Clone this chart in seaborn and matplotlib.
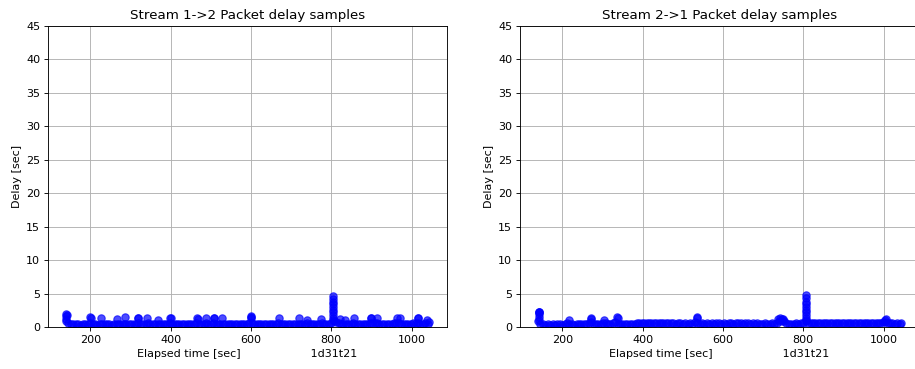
import numpy as np
import pandas as pd
import matplotlib
matplotlib.use("Agg")
import matplotlib.pyplot as plt
import seaborn as sns

# Sample instants shared by both directions [sec]
time_s = [
    140, 146, 152, 158, 164, 170, 176, 182, 188, 194,
    200, 206, 212, 218, 224, 230, 236, 242, 248, 254,
    260, 266, 272, 278, 284, 290, 296, 302, 308, 314,
    320, 326, 332, 338, 344, 350, 356, 362, 368, 374,
    380, 386, 392, 398, 404, 410, 416, 422, 428, 434,
    440, 446, 452, 458, 464, 470, 476, 482, 488, 494,
    500, 506, 512, 518, 524, 530, 536, 542, 548, 554,
    560, 566, 572, 578, 584, 590, 596, 602, 608, 614,
    620, 626, 632, 638, 644, 650, 656, 662, 668, 674,
    680, 686, 692, 698, 704, 710, 716, 722, 728, 734,
    740, 746, 752, 758, 764, 770, 776, 782, 788, 794,
    800, 806, 812, 818, 824, 830, 836, 842, 848, 854,
    860, 866, 872, 878, 884, 890, 896, 902, 908, 914,
    920, 926, 932, 938, 944, 950, 956, 962, 968, 974,
    980, 986, 992, 998, 1004, 1010, 1016, 1022, 1028, 1034,
    1040,
]

# Stream 1->2 delays at the shared instants [sec]
delay_12 = [
    0.9, 0.6, 0.5, 0.4, 0.45, 0.4, 0.35, 0.4, 0.45, 0.5,
    0.6, 0.5, 0.4, 0.35, 0.5, 0.4, 0.4, 0.45, 0.4, 0.35,
    0.4, 0.5, 0.45, 0.4, 0.4, 0.45, 0.5, 0.4, 0.45, 0.5,
    0.6, 0.45, 0.4, 0.5, 0.55, 0.4, 0.45, 0.4, 0.5, 0.4,
    0.4, 0.45, 0.5, 0.6, 0.45, 0.4, 0.4, 0.45, 0.4, 0.4,
    0.45, 0.4, 0.5, 0.45, 0.55, 0.5, 0.45, 0.5, 0.55, 0.45,
    0.5, 0.55, 0.45, 0.4, 0.5, 0.45, 0.4, 0.45, 0.4, 0.45,
    0.4, 0.45, 0.5, 0.4, 0.45, 0.5, 0.6, 0.55, 0.45, 0.4,
    0.45, 0.4, 0.45, 0.4, 0.4, 0.45, 0.4, 0.5, 0.55, 0.45,
    0.4, 0.45, 0.4, 0.4, 0.45, 0.4, 0.4, 0.5, 0.45, 0.5,
    0.55, 0.45, 0.4, 0.45, 0.5, 0.45, 0.55, 0.4, 0.45, 0.5,
    0.6, 0.9, 0.7, 0.55, 0.5, 0.45, 0.5, 0.45, 0.4, 0.55,
    0.45, 0.4, 0.45, 0.5, 0.45, 0.5, 0.55, 0.6, 0.55, 0.6,
    0.5, 0.45, 0.4, 0.45, 0.5, 0.45, 0.55, 0.6, 0.55, 0.5,
    0.45, 0.5, 0.45, 0.5, 0.55, 0.6, 0.55, 0.5, 0.45, 0.55,
    0.5,
]

# Stream 2->1 delays at the shared instants [sec]
delay_21 = [
    0.9, 0.45, 0.4, 0.35, 0.4, 0.35, 0.4, 0.35, 0.4, 0.4,
    0.35, 0.4, 0.55, 0.5, 0.4, 0.35, 0.4, 0.45, 0.4, 0.4,
    0.45, 0.6, 0.7, 0.5, 0.45, 0.5, 0.45, 0.55, 0.6, 0.5,
    0.5, 0.55, 0.7, 0.5, 0.45, 0.5, 0.5, 0.45, 0.5, 0.5,
    0.5, 0.55, 0.55, 0.6, 0.6, 0.55, 0.6, 0.65, 0.6, 0.55,
    0.6, 0.55, 0.6, 0.6, 0.55, 0.6, 0.55, 0.5, 0.55, 0.55,
    0.5, 0.55, 0.5, 0.6, 0.5, 0.7, 0.55, 0.5, 0.55, 0.5,
    0.55, 0.5, 0.55, 0.5, 0.55, 0.55, 0.5, 0.55, 0.5, 0.55,
    0.55, 0.5, 0.55, 0.6, 0.55, 0.5, 0.55, 0.55, 0.5, 0.55,
    0.5, 0.55, 0.5, 0.5, 0.55, 0.5, 0.5, 0.55, 0.5, 0.6,
    0.9, 0.9, 0.85, 0.55, 0.5, 0.45, 0.5, 0.55, 0.5, 0.55,
    0.6, 0.9, 0.6, 0.55, 0.6, 0.55, 0.6, 0.6, 0.55, 0.6,
    0.6, 0.55, 0.6, 0.65, 0.6, 0.6, 0.55, 0.6, 0.6, 0.55,
    0.6, 0.55, 0.6, 0.6, 0.55, 0.6, 0.6, 0.55, 0.6, 0.55,
    0.6, 0.55, 0.65, 0.75, 0.8, 0.6, 0.55, 0.6, 0.5, 0.55,
    0.5,
]

# Additional (late) packets, stream 1->2
late_t_12 = [141, 141, 141, 143, 200, 201, 227, 267, 287, 319, 320, 341, 368,
             399, 400, 467, 468, 487, 507, 508, 529, 599, 600, 601, 669, 720,
             740, 775, 805, 805, 805, 805, 805, 805, 805, 805, 805, 805, 822,
             834, 857, 898, 899, 913, 963, 970, 1015, 1016, 1037, 1043]
late_d_12 = [1.2, 1.6, 2.0, 1.8, 1.45, 1.3, 1.3, 1.2, 1.5, 1.4, 1.3, 1.4, 1.0,
             1.4, 1.3, 1.3, 1.2, 1.4, 1.4, 1.3, 1.3, 1.6, 1.4, 1.5, 1.3, 1.3,
             1.0, 1.2, 1.0, 1.4, 1.8, 2.2, 2.6, 3.0, 3.4, 3.8, 4.2, 4.6, 1.2,
             1.0, 1.3, 1.4, 1.3, 1.4, 1.4, 1.3, 1.4, 1.3, 1.0, 0.7]

# Additional (late) packets, stream 2->1
late_t_21 = [143, 143, 143, 143, 143, 143, 217, 271, 272, 303, 337, 338, 535, 536,
             738, 742, 746, 750, 806, 806, 806, 806, 806, 806, 806, 806, 806,
             806, 1004, 1005, 1042]
late_d_21 = [1.0, 1.5, 2.0, 2.3, 2.3, 2.3, 1.0, 1.4, 1.2, 1.0, 1.5, 1.3, 1.5, 1.3,
             1.25, 1.3, 1.25, 1.2, 1.0, 1.4, 1.8, 2.2, 2.6, 3.0, 3.4, 3.8, 4.3,
             4.8, 1.0, 1.2, 0.6]

titles = ["Stream 1->2 Packet delay samples", "Stream 2->1 Packet delay samples"]
run_id = "1d31t21"
x_label = "Elapsed time [sec]" + " " * 20 + run_id


def stream_frame(delays, late_t, late_d):
    return pd.DataFrame({
        "t": list(time_s) + list(late_t),
        "delay": list(delays) + list(late_d),
    })


frames = [
    stream_frame(delay_12, late_t_12, late_d_12),
    stream_frame(delay_21, late_t_21, late_d_21),
]

DPI = 80
fig = plt.figure(figsize=(915 / DPI, 369 / DPI), dpi=DPI)
ax_w = 399 / 915
ax_b = 1 - 327 / 369
ax_h = (327 - 26) / 369
axes = [fig.add_axes([48 / 915, ax_b, ax_w, ax_h]),
        fig.add_axes([520 / 915, ax_b, ax_w, ax_h])]

for ax, df, title in zip(axes, frames, titles):
    sns.scatterplot(data=df, x="t", y="delay", ax=ax, color="blue",
                    edgecolor="blue", alpha=0.7, s=44, linewidth=1.0,
                    legend=False)
    ax.set_ylim(0, 45)
    ax.set_yticks(np.arange(0, 46, 5))
    ax.set_xlim(95, 1088)
    ax.set_xticks([200, 400, 600, 800, 1000])
    ax.grid(True, color="#b0b0b0", linewidth=0.8)
    ax.set_axisbelow(True)
    ax.set_title(title, fontsize=12)
    ax.set_xlabel(x_label, fontsize=10)
    ax.set_ylabel("Delay [sec]", fontsize=10)
    ax.tick_params(labelsize=10)

fig.savefig("out.png", dpi=DPI)
